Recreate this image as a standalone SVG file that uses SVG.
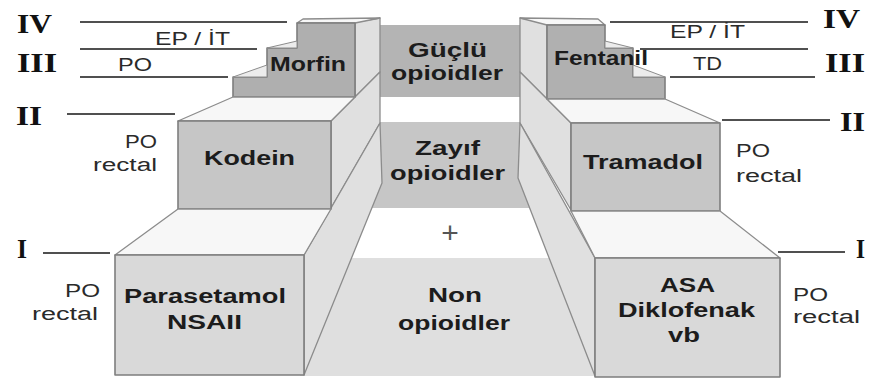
<svg xmlns="http://www.w3.org/2000/svg" width="869" height="383" viewBox="0 0 869 383">
<style>
.panel{stroke:none}
.side{fill:#e0e0e0;stroke:#8c8c8c;stroke-width:1.3;stroke-linejoin:round}
.top{fill:#f7f7f7;stroke:#8c8c8c;stroke-width:1.3;stroke-linejoin:round}
.front{stroke:#7e7e7e;stroke-width:1.6;stroke-linejoin:round}
.tread{fill:#ececec;stroke:#8c8c8c;stroke-width:1}
.lvl{stroke:#505050;stroke-width:2;fill:none}
.b{font-family:"Liberation Sans",Arial,sans-serif;font-weight:bold;font-size:20px;fill:#1c1c1c}
.r{font-family:"Liberation Sans",Arial,sans-serif;font-size:18px;fill:#2a2a2a}
.roman{font-family:"Liberation Serif","Times New Roman",serif;font-weight:bold;font-size:27px;fill:#111}
</style>
<rect width="869" height="383" fill="#ffffff"/>

<g id="panel-guclu">
<rect class="panel" x="380" y="25" width="140" height="72" fill="#b4b4b4"/>
<text class="b" x="408" y="57" textLength="79" lengthAdjust="spacingAndGlyphs">Güçlü</text>
<text class="b" x="391" y="80" textLength="112" lengthAdjust="spacingAndGlyphs">opioidler</text>
</g>
<g id="panel-zayif">
<rect class="panel" x="360" y="122" width="180" height="86" fill="#c6c6c6"/>
<text class="b" x="415" y="155" textLength="65" lengthAdjust="spacingAndGlyphs">Zayıf</text>
<text class="b" x="390" y="180" textLength="115" lengthAdjust="spacingAndGlyphs">opioidler</text>
</g>
<g id="plus">
<text x="450" y="243" text-anchor="middle" style="font-family:'Liberation Sans',Arial,sans-serif;font-size:30px;fill:#555">+</text>
</g>
<g id="panel-non">
<rect class="panel" x="300" y="258" width="300" height="118" fill="#dfdfdf"/>
<text class="b" x="428" y="302" textLength="54" lengthAdjust="spacingAndGlyphs">Non</text>
<text class="b" x="398" y="330" textLength="112" lengthAdjust="spacingAndGlyphs">opioidler</text>
</g>

<g id="left-walls">
<polygon class="side" points="355,22 380,18 380,72 355,97"/>
<polygon class="side" points="331,121 380,72 380,123 331,208"/>
<polygon class="side" points="304,255 380,123 382,183 304,375"/>
</g>
<g id="right-walls">
<polygon class="side" points="547,22 520,18 520,72 547,99"/>
<polygon class="side" points="571,123 520,72 520,123 571,210"/>
<polygon class="side" points="595,258 520,123 518,178 595,376"/>
</g>

<g id="morfin">
<polygon class="top" points="297,23 303,19 380,18 355,23"/>
<polygon class="front" fill="#afafaf" points="233,97 233,77 267,77 267,48 297,48 297,23 355,23 355,97"/>
<polygon class="tread" points="233,77 267,77 267,65"/>
<polygon class="tread" points="267,48 297,48 297,41"/>
<text class="b" x="270" y="71" font-size="19" textLength="76" lengthAdjust="spacingAndGlyphs">Morfin</text>
</g>
<g id="fentanil">
<polygon class="top" points="605,25 598,19 520,18 547,25"/>
<polygon class="front" fill="#b0b0b0" points="665,99 665,77 633,77 633,48 605,48 605,25 547,25 547,99"/>
<polygon class="tread" points="665,77 633,77 633,65"/>
<polygon class="tread" points="633,48 605,48 605,41"/>
<text class="b" x="554" y="65" font-size="18" textLength="94" lengthAdjust="spacingAndGlyphs">Fentanil</text>
</g>

<g id="kodein">
<polygon class="top" points="178,121 233,97 355,97 331,121"/>
<rect class="front" x="178" y="121" width="153" height="88" fill="#c6c6c6"/>
<text class="b" x="204" y="165" textLength="91" lengthAdjust="spacingAndGlyphs">Kodein</text>
</g>
<g id="tramadol">
<polygon class="top" points="571,123 547,99 665,99 720,123"/>
<rect class="front" x="571" y="123" width="149" height="88" fill="#c6c6c6"/>
<text class="b" x="583" y="169" textLength="120" lengthAdjust="spacingAndGlyphs">Tramadol</text>
</g>

<g id="parasetamol">
<polygon class="top" points="115,255 178,209 331,209 304,255"/>
<rect class="front" x="115" y="255" width="189" height="120" fill="#d9d9d9"/>
<text class="b" x="124" y="303" textLength="162" lengthAdjust="spacingAndGlyphs">Parasetamol</text>
<text class="b" x="167" y="329" textLength="75" lengthAdjust="spacingAndGlyphs">NSAII</text>
</g>
<g id="asa">
<polygon class="top" points="595,258 571,211 720,211 780,258"/>
<rect class="front" x="595" y="258" width="185" height="119" fill="#d9d9d9"/>
<text class="b" x="660" y="292" textLength="55" lengthAdjust="spacingAndGlyphs">ASA</text>
<text class="b" x="618" y="317" textLength="137" lengthAdjust="spacingAndGlyphs">Diklofenak</text>
<text class="b" x="668" y="342" textLength="32" lengthAdjust="spacingAndGlyphs">vb</text>
</g>

<g id="connectors">
<line class="lvl" x1="80" y1="22" x2="287" y2="22"/>
<line class="lvl" x1="80" y1="49" x2="257" y2="49"/>
<line class="lvl" x1="80" y1="77" x2="228" y2="77"/>
<line class="lvl" x1="67" y1="114" x2="175" y2="114"/>
<line class="lvl" x1="43" y1="253" x2="110" y2="253"/>
<line class="lvl" x1="610" y1="22" x2="808" y2="22"/>
<line class="lvl" x1="640" y1="49" x2="808" y2="49"/>
<line class="lvl" x1="670" y1="77" x2="815" y2="77"/>
<line class="lvl" x1="722" y1="120" x2="830" y2="120"/>
<line class="lvl" x1="778" y1="252" x2="845" y2="252"/>
</g>

<g id="left-labels">
<text class="roman" x="17" y="33" textLength="35" lengthAdjust="spacingAndGlyphs">IV</text>
<text class="roman" x="17" y="72" textLength="40" lengthAdjust="spacingAndGlyphs">III</text>
<text class="roman" x="16" y="125" textLength="26" lengthAdjust="spacingAndGlyphs">II</text>
<text class="roman" x="17" y="258" textLength="10" lengthAdjust="spacingAndGlyphs">I</text>
<text class="r" x="155" y="45" textLength="75" lengthAdjust="spacingAndGlyphs">EP / İT</text>
<text class="r" x="118" y="71" textLength="34" lengthAdjust="spacingAndGlyphs">PO</text>
<text class="r" x="125" y="148" font-size="17" textLength="32" lengthAdjust="spacingAndGlyphs">PO</text>
<text class="r" x="93" y="171" font-size="17" textLength="64" lengthAdjust="spacingAndGlyphs">rectal</text>
<text class="r" x="65" y="297" font-size="17" textLength="35" lengthAdjust="spacingAndGlyphs">PO</text>
<text class="r" x="32" y="320" font-size="17" textLength="66" lengthAdjust="spacingAndGlyphs">rectal</text>
</g>
<g id="right-labels">
<text class="roman" x="823" y="28" textLength="37" lengthAdjust="spacingAndGlyphs">IV</text>
<text class="roman" x="825" y="72" textLength="40" lengthAdjust="spacingAndGlyphs">III</text>
<text class="roman" x="840" y="131" textLength="25" lengthAdjust="spacingAndGlyphs">II</text>
<text class="roman" x="856" y="258" textLength="9" lengthAdjust="spacingAndGlyphs">I</text>
<text class="r" x="670" y="38" textLength="75" lengthAdjust="spacingAndGlyphs">EP / İT</text>
<text class="r" x="693" y="70" textLength="29" lengthAdjust="spacingAndGlyphs">TD</text>
<text class="r" x="736" y="157" font-size="17" textLength="34" lengthAdjust="spacingAndGlyphs">PO</text>
<text class="r" x="736" y="182" font-size="17" textLength="66" lengthAdjust="spacingAndGlyphs">rectal</text>
<text class="r" x="793" y="301" font-size="17" textLength="35" lengthAdjust="spacingAndGlyphs">PO</text>
<text class="r" x="793" y="323" font-size="17" textLength="67" lengthAdjust="spacingAndGlyphs">rectal</text>
</g>
</svg>
